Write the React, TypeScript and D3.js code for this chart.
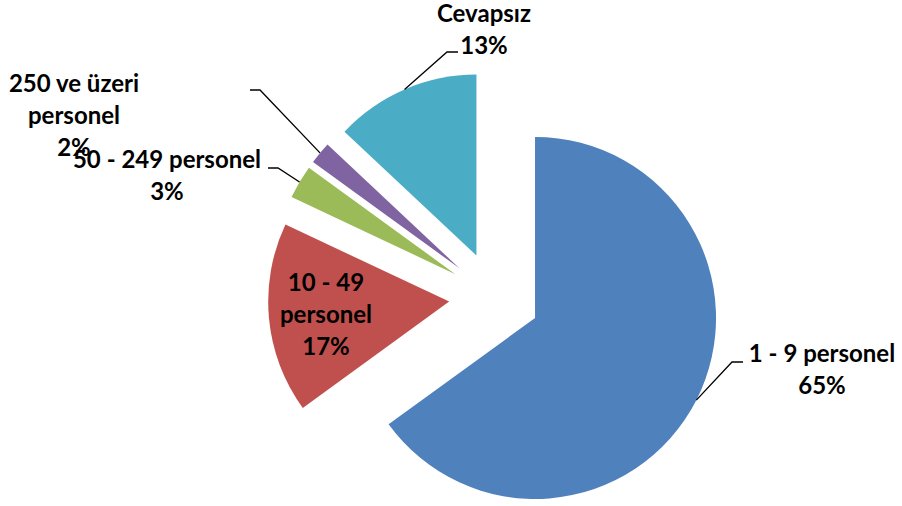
import React from "react";
import * as d3 from "d3";

const categories = ["1 - 9 personel", "10 - 49 personel", "50 - 249 personel", "250 ve üzeri personel", "Cevapsız"];
const values = [65, 17, 3, 2, 13];
const colors = ["#4F81BD", "#C0504D", "#9BBB59", "#8064A2", "#4BACC6"];

// label layout (lines, anchor x, first baseline y) and leader elbows
const labelLines = [
  ["1 - 9 personel", "65%"],
  ["10 - 49", "personel", "17%"],
  ["50 - 249 personel", "3%"],
  ["250 ve üzeri", "personel", "2%"],
  ["Cevapsız", "13%"],
];
const labelPos = [
  [822, 362],
  [326, 291],
  [167, 168],
  [74, 92],
  [484, 22],
];
const leaderElbow: (number[][] | null)[] = [
  [[732, 362], [743, 362]],
  null,
  [[278, 168], [268, 168]],
  [[260, 90], [250, 90]],
  [[447, 52], [458, 52]],
];

const W = 902, H = 506;
const CX = 494.5, CY = 297.3, R = 181, EXPLODE = 45.5;
const LINE_H = 32;

export default function App() {
  const pie = d3.pie<number>().sort(null).value((d) => d).startAngle(0).endAngle(2 * Math.PI);
  const arcs = pie(values);
  const arc = d3.arc<d3.PieArcDatum<number>>().innerRadius(0).outerRadius(R);
  return (
    <svg width={W} height={H} style={{ position: "absolute", left: 0, top: 0, background: "#fff" }}>
      {arcs.map((a, i) => {
        const mid = (a.startAngle + a.endAngle) / 2;
        const dx = Math.sin(mid), dy = -Math.cos(mid);
        const vx = CX + EXPLODE * dx, vy = CY + EXPLODE * dy;
        return (
          <g key={i}>
            <path d={arc(a) || ""} transform={`translate(${vx},${vy})`} fill={colors[i]} />
          </g>
        );
      })}
      {arcs.map((a, i) => {
        const el = leaderElbow[i];
        if (!el) return null;
        const mid = (a.startAngle + a.endAngle) / 2;
        const dx = Math.sin(mid), dy = -Math.cos(mid);
        const sx = CX + (EXPLODE + R) * dx, sy = CY + (EXPLODE + R) * dy;
        const pts = [[sx, sy], ...el];
        return (
          <polyline key={"l" + i} points={pts.map((p) => p.join(",")).join(" ")} fill="none" stroke="#000" strokeWidth={1.3} />
        );
      })}
      {labelLines.map((lines, i) => (
        <text key={"t" + i} x={labelPos[i][0]} y={labelPos[i][1]} textAnchor="middle"
          fontFamily="Lato, 'Open Sans', sans-serif" fontWeight="bold" fontSize={24} fill="#000">
          {lines.map((ln, j) => (
            <tspan key={j} x={labelPos[i][0]} dy={j === 0 ? 0 : LINE_H}>{ln}</tspan>
          ))}
        </text>
      ))}
    </svg>
  );
}
